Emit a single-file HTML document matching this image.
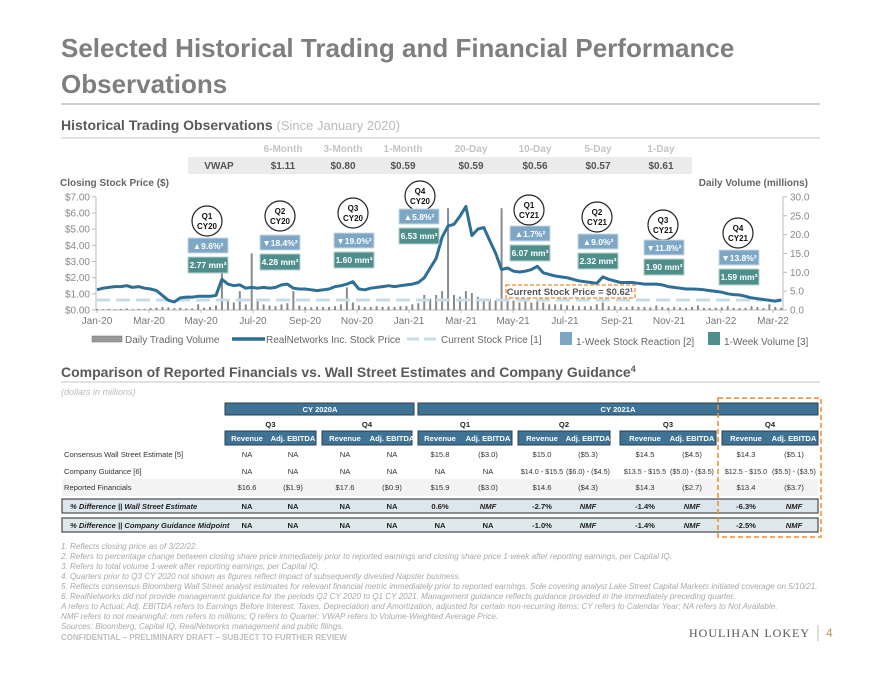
<!DOCTYPE html>
<html><head><meta charset="utf-8"><style>
html,body{margin:0;padding:0;background:#fff}
svg{display:block;font-family:"Liberation Sans",Arial,sans-serif}
</style></head><body>
<svg id="page" width="880" height="680" viewBox="0 0 880 680">
<g fill="#7f7f7f" font-weight="bold" font-size="26">
<text x="61" y="57">Selected Historical Trading and Financial Performance</text>
<text x="61" y="93">Observations</text></g>
<line x1="61" y1="104" x2="820" y2="104" stroke="#d0d0d0" stroke-width="2"/>
<text x="61" y="130" font-size="14" font-weight="bold" fill="#595959">Historical Trading Observations <tspan font-weight="normal" fill="#bbb" font-size="13">(Since January 2020)</tspan></text>
<line x1="61" y1="138" x2="820" y2="138" stroke="#d8d8d8" stroke-width="1.5"/>
<g font-size="10" font-weight="bold" text-anchor="middle">
<rect x="188" y="157" width="504" height="17" fill="#ebebeb"/>
<g fill="#c4c4c4"><text x="283" y="152">6-Month</text><text x="343" y="152">3-Month</text><text x="403" y="152">1-Month</text><text x="471" y="152">20-Day</text><text x="535" y="152">10-Day</text><text x="598" y="152">5-Day</text><text x="661" y="152">1-Day</text></g>
<g fill="#555"><text x="219" y="169">VWAP</text><text x="283" y="169">$1.11</text><text x="343" y="169">$0.80</text><text x="403" y="169">$0.59</text><text x="471" y="169">$0.59</text><text x="535" y="169">$0.56</text><text x="598" y="169">$0.57</text><text x="661" y="169">$0.61</text></g></g>
<text x="60" y="186" font-size="10" font-weight="bold" fill="#666">Closing Stock Price ($)</text>
<text x="808" y="186" font-size="10" font-weight="bold" fill="#666" text-anchor="end">Daily Volume (millions)</text>
<g id="chart"></g>
<g id="legend" font-size="10" fill="#666">
<g><rect x="92" y="336" width="30" height="6" fill="#9a9a9a" stroke="#777" stroke-width="0.5"/><text x="125" y="343">Daily Trading Volume</text></g>
<g><line x1="232" y1="339" x2="265" y2="339" stroke="#2e6f96" stroke-width="3.5"/><text x="266" y="343">RealNetworks Inc. Stock Price</text></g>
<g><line x1="407" y1="339" x2="440" y2="339" stroke="#c7dce9" stroke-width="3" stroke-dasharray="12,5"/><text x="441" y="343">Current Stock Price [1]</text></g>
<g><rect x="560" y="332" width="12" height="13" fill="#7ea7c6"/><text x="576" y="345">1-Week Stock Reaction [2]</text></g>
<g><rect x="708" y="332" width="12" height="13" fill="#4e8f8c"/><text x="724" y="345">1-Week Volume [3]</text></g></g>
<text x="61" y="377" font-size="14" font-weight="bold" fill="#595959">Comparison of Reported Financials vs. Wall Street Estimates and Company Guidance<tspan font-size="9" dy="-5">4</tspan></text>
<line x1="61" y1="382" x2="820" y2="382" stroke="#d8d8d8" stroke-width="1.5"/>
<text x="61" y="395" font-size="9" font-style="italic" fill="#bbb">(dollars in millions)</text>
<g id="fin" font-size="7.6" text-anchor="middle"></g>
<g font-size="8.1" font-style="italic" fill="#a8a8a8">
<text x="61" y="549">1. Reflects closing price as of 3/22/22.</text>
<text x="61" y="559">2. Refers to percentage change between closing share price immediately prior to reported earnings and closing share price 1-week after reporting earnings, per Capital IQ.</text>
<text x="61" y="569">3. Refers to total volume 1-week after reporting earnings, per Capital IQ.</text>
<text x="61" y="579">4. Quarters prior to Q3 CY 2020 not shown as figures reflect impact of subsequently divested Napster business.</text>
<text x="61" y="589">5. Reflects consensus Bloomberg Wall Street analyst estimates for relevant financial metric immediately prior to reported earnings. Sole covering analyst Lake Street Capital Markets initiated coverage on 5/10/21.</text>
<text x="61" y="599">6. RealNetworks did not provide management guidance for the periods Q2 CY 2020 to Q1 CY 2021. Management guidance reflects guidance provided in the immediately preceding quarter.</text>
<text x="61" y="609">A refers to Actual; Adj. EBITDA refers to Earnings Before Interest, Taxes, Depreciation and Amortization, adjusted for certain non-recurring items; CY refers to Calendar Year; NA refers to Not Available.</text>
<text x="61" y="619">NMF refers to not meaningful; mm refers to millions; Q refers to Quarter; VWAP refers to Volume-Weighted Average Price.</text>
<text x="61" y="629">Sources: Bloomberg, Capital IQ, RealNetworks management and public filings.</text></g>
<text x="61" y="640" font-size="8" font-weight="bold" fill="#bdbdbd">CONFIDENTIAL – PRELIMINARY DRAFT – SUBJECT TO FURTHER REVIEW</text>
<text x="810" y="637" font-size="12" font-family="Liberation Serif,serif" fill="#555" text-anchor="end" letter-spacing="1">HOULIHAN LOKEY</text>
<line x1="818" y1="625" x2="818" y2="641" stroke="#bbb"/>
<text x="826" y="637" font-size="12" fill="#b8995a">4</text>
</svg>
<script>
var NS='http://www.w3.org/2000/svg';
var priceValues=[1.25,1.35,1.4,1.45,1.45, 1.5,1.4,1.45,1.35, 1.3,1.2,0.9,0.6, 0.5,0.75,0.8,0.8,0.85, 0.85,0.85,0.9,1.9, 1.6,1.5,1.55,1.35, 1.4,1.35,1.4,1.35,1.4, 1.55,1.6,1.35,1.3, 1.3,1.25,1.2,1.25, 1.3,1.45,1.5,1.6,1.75, 1.3,1.25,1.35,1.4, 1.45,1.5,1.45,1.5, 1.55,1.6,1.7,2.0,2.6, 3.2,4.5,5.2,5.3,5.8, 6.4,4.6,5.0,5.1,4.3,3.5, 2.5,2.6,2.4,2.35,2.4, 2.5,2.7,2.3,2.2,2.1, 2.05,2.0,1.9,1.8,1.75, 1.7,1.65,2.05,1.9,1.8, 1.7,1.7,1.7,1.65,1.6, 1.6,1.6,1.55,1.45,1.4, 1.35,1.3,1.3,1.28,1.25, 1.2,1.15,1.1,1.0,0.95, 0.93,0.85,0.75,0.7,0.65, 0.6,0.55,0.62];
var volumeValues=[0.3,0.2,0.3,0.2,0.3,0.4,0.2,0.3,0.3,0.5,0.6,0.8,0.7, 0.5,0.6,0.4,0.4,1.5,0.6,0.8,1.2,10,3.0,2.0,5.0,1.5, 15,2.5,1.5,1.2,1.0,1.5,1.8,5.0,1.2,0.8,0.7,0.9,0.8, 0.8,1.0,1.5,6.0,2.0,1.2,0.8,0.8,1.0,0.8,0.9,0.8,1.0, 1.0,1.5,1.8,4.0,3.0,4.0,5.0,27,4.0,3.5,5.0,4.5,3.5, 3.0,3.0,2.5,27,3.0,2.5,2.0,2.5,2.0,3.0,2.0,1.5,1.5, 1.5,1.2,1.2,1.0,1.0,1.0,1.5,2.0,1.0,1.0,0.8,0.8,1.0, 0.8,0.8,0.7,1.2,0.8,0.6,0.8,0.7,0.6,0.8,1.2,0.6,0.5, 0.6,0.7,1.0,0.6,0.5,0.6,1.0,0.8,0.5,1.5,0.8,0.6];
var currentPrice=0.62;
var xTickLabels=['Jan-20','Mar-20','May-20','Jul-20','Sep-20','Nov-20','Jan-21','Mar-21','May-21','Jul-21','Sep-21','Nov-21','Jan-22','Mar-22'];
var leftTicks=[0,1,2,3,4,5,6,7];
var rightTicks=[0,5,10,15,20,25,30];
var quarterLabels=['Q1|CY20','Q2|CY20','Q3|CY20','Q4|CY20','Q1|CY21','Q2|CY21','Q3|CY21','Q4|CY21'];
var quarterReactions=['▲9.6%','▼18.4%','▼19.0%','▲5.8%','▲1.7%','▲9.0%','▼11.8%','▼13.8%'];
var quarterVolumes=['2.77 mm','4.28 mm','1.60 mm','6.53 mm','6.07 mm','2.32 mm','1.90 mm','1.59 mm'];
var X0=97,WK=5.95,Y0=310;
function xW(w){return X0+w*WK}
function xM(m){return X0+m*26}
function yP(v){return Y0-v*16.17}
function yV(v){return Y0-v*3.77}
var chart=document.getElementById('chart');
function el(tag,attrs,parent){var e=document.createElementNS(NS,tag);for(var k in attrs)e.setAttribute(k,attrs[k]);(parent||chart).appendChild(e);return e}
var ax=el('line',{x1:96,y1:197,x2:96,y2:310,stroke:'#bbb'});


var ax2=el('line',{x1:783,y1:197,x2:783,y2:310,stroke:'#bbb'});


var ax3=el('line',{x1:96,y1:310,x2:783,y2:310,stroke:'#bbb'});


leftTicks.forEach(function(v){var t=el('text',{x:90,y:yP(v)+3.5,'font-size':10,fill:'#888','text-anchor':'end'});t.textContent='$'+v.toFixed(2);


el('line',{x1:92,y1:yP(v),x2:96,y2:yP(v),stroke:'#bbb'});});
rightTicks.forEach(function(v){var t=el('text',{x:790,y:yV(v)+3.5,'font-size':10,fill:'#888'});t.textContent=v.toFixed(1);


el('line',{x1:783,y1:yV(v),x2:787,y2:yV(v),stroke:'#bbb'});});
xTickLabels.forEach(function(s,i){var t=el('text',{x:xM(i*2),y:324,'font-size':10,fill:'#777','text-anchor':'middle'});t.textContent=s;


el('line',{x1:xM(i*2),y1:310,x2:xM(i*2),y2:313,stroke:'#bbb'});});
volumeValues.forEach(function(v,i){var b=el('rect',{x:xW(i)-1,y:yV(v),width:2,height:Y0-yV(v),fill:'#8a8a8a'});

});
var cp=el('line',{x1:96,y1:yP(currentPrice),x2:783,y2:yP(currentPrice),stroke:'#c7dce9','stroke-width':3,'stroke-dasharray':'14,6'});


var d=priceValues.map(function(v,i){return (i?'L':'M')+xW(i).toFixed(1)+','+yP(v).toFixed(1)}).join('');
var pl=el('path',{d:d,fill:'none',stroke:'#2e6f96','stroke-width':3,'stroke-linejoin':'round'});


var cb=el('rect',{x:506,y:285,width:129,height:13,fill:'#fff',stroke:'#f08a2c','stroke-width':1.3,'stroke-dasharray':'4,2'});


var ct=el('text',{x:570,y:295,'font-size':9.5,'font-weight':'bold',fill:'#555','text-anchor':'middle'});ct.textContent='Current Stock Price = $0.62¹';
var qpos=[[207,221,188,238],[280,216,260,235],[353,213,334,233],[420,196,399,209],[529,210,510,226],[597,217,578,234],[663,225,644,240],[738,233,719,250]];
quarterLabels.forEach(function(q,i){var p=qpos[i];var g=el('g',{});


el('circle',{cx:p[0],cy:p[1],r:15,fill:'#fff',stroke:'#222','stroke-width':1.2},g);
var parts=q.split('|');
var t1=el('text',{x:p[0],y:p[1]-2,'font-size':8,'font-weight':'bold',fill:'#111','text-anchor':'middle'},g);t1.textContent=parts[0];
var t2=el('text',{x:p[0],y:p[1]+8,'font-size':8,'font-weight':'bold',fill:'#111','text-anchor':'middle'},g);t2.textContent=parts[1];
el('rect',{x:p[2],y:p[3],width:40,height:15,fill:'#7ea7c6',stroke:'#c8d9e6'},g);
var t3=el('text',{x:p[2]+20,y:p[3]+11,'font-size':8.5,'font-weight':'bold',fill:'#fff','text-anchor':'middle'},g);t3.textContent=quarterReactions[i]+'²';
el('rect',{x:p[2],y:p[3]+19,width:40,height:16,fill:'#4e8f8c',stroke:'#b9d2d0'},g);
var t4=el('text',{x:p[2]+20,y:p[3]+30,'font-size':8.5,'font-weight':'bold',fill:'#fff','text-anchor':'middle'},g);t4.textContent=quarterVolumes[i]+'³';
});
var fin=document.getElementById('fin');
function fe(tag,a){return el(tag,a,fin)}
function ft(x,y,s,o){var t=fe('text',Object.assign({x:x,y:y},o||{}));t.textContent=s;return t}
fe('rect',{x:62,y:479,width:756,height:17,fill:'#f3f3f3'});
var h1=fe('rect',{x:225,y:403,width:189,height:12,fill:'#3f7396',stroke:'#2a3d4a'});


ft(320,412,'CY 2020A',{fill:'#fff','font-weight':'bold'});
var h2=fe('rect',{x:418,y:403,width:400,height:12,fill:'#3f7396',stroke:'#2a3d4a'});


ft(618,412,'CY 2021A',{fill:'#fff','font-weight':'bold'});
var qs=[['Q3',225,316],['Q4',322,412],['Q1',418,512],['Q2',518,610],['Q3',620,716],['Q4',722,818]];
var cols=[[247,293],[345,392],[440,488],[542,588],[645,692],[746,794]];
qs.forEach(function(q,i){ft((q[1]+q[2])/2,427,q[0],{'font-weight':'bold',fill:'#222'});
var r=fe('rect',{x:q[1],y:431,width:q[2]-q[1],height:14,fill:'#3f7396',stroke:'#2a3d4a'});


ft(cols[i][0],441,'Revenue',{fill:'#fff','font-weight':'bold'});ft(cols[i][1],441,'Adj. EBITDA',{fill:'#fff','font-weight':'bold'});});
var rowLabels=['Consensus Wall Street Estimate [5]','Company Guidance [6]','Reported Financials'];
var rowY=[457,474,490];
var consensus=['NA','NA','NA','NA','$15.8','($3.0)','$15.0','($5.3)','$14.5','($4.5)','$14.3','($5.1)'];
var guidance=['NA','NA','NA','NA','NA','NA','$14.0 - $15.5','($6.0) - ($4.5)','$13.5 - $15.5','($5.0) - ($3.5)','$12.5 - $15.0','($5.5) - ($3.5)'];
var reported=['$16.6','($1.9)','$17.6','($0.9)','$15.9','($3.0)','$14.6','($4.3)','$14.3','($2.7)','$13.4','($3.7)'];
var diffWS=['NA','NA','NA','NA','0.6%','NMF','-2.7%','NMF','-1.4%','NMF','-6.3%','NMF'];
var diffGuide=['NA','NA','NA','NA','NA','NA','-1.0%','NMF','-1.4%','NMF','-2.5%','NMF'];
[consensus,guidance,reported].forEach(function(arr,r){ft(64,rowY[r],rowLabels[r],{'text-anchor':'start',fill:'#333'});
arr.forEach(function(s,j){ft(cols[j>>1][j&1],rowY[r],s,{fill:'#333','font-size':s.length>10?7.2:7.6});});});
[[diffWS,499,'#dce6ee','% Difference || Wall Street Estimate'],[diffGuide,518,'#dde9ea','% Difference || Company Guidance Midpoint']].forEach(function(a){
var r=fe('rect',{x:62,y:a[1],width:756,height:14,fill:a[2],stroke:'#555','stroke-width':1.3});


ft(70,a[1]+10,a[3],{'text-anchor':'start','font-weight':'bold','font-style':'italic',fill:'#222'});
a[0].forEach(function(s,j){ft(cols[j>>1][j&1],a[1]+10,s,{'font-weight':'bold','font-style':s==='NMF'?'italic':'normal',fill:'#222'});});});
var ob=fe('rect',{x:718,y:398,width:103,height:139,fill:'none',stroke:'#f08a2c','stroke-width':1.5,'stroke-dasharray':'5,3'});


</script>
</body></html>
